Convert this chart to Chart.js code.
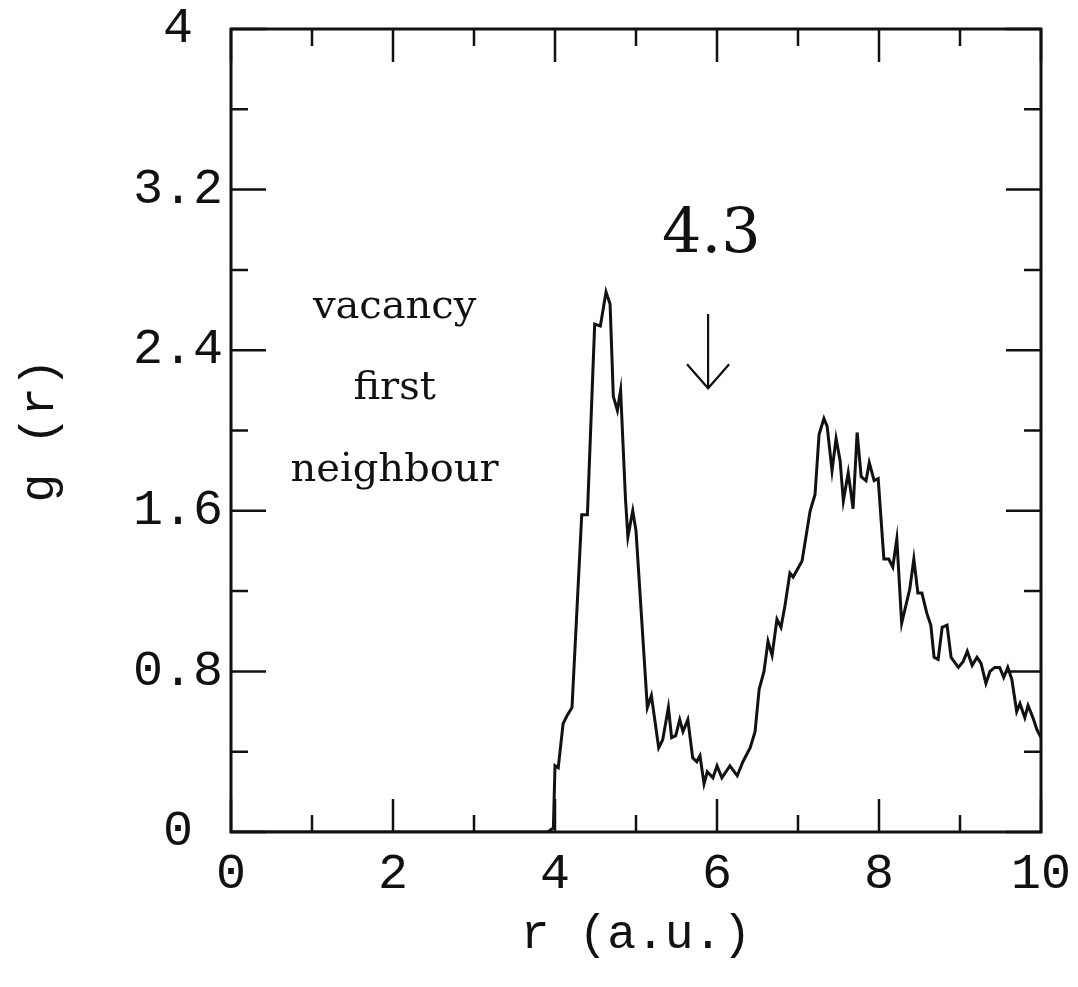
<!DOCTYPE html>
<html lang="en">
<head>
    <meta charset="UTF-8">
    <title>g(r) vacancy first neighbour</title>
    <script src="https://cdn.jsdelivr.net/npm/chart.js@4.4.0/dist/chart.umd.min.js"></script>
    <style>
        body { margin: 0; background: #fff; }
        #wrap { width: 1078px; height: 987px; }
    </style>
</head>
<body>
<div id="wrap"><canvas id="grChart"></canvas></div>
<script>
    // g(r), r in a.u.
    const rValues = [0, 3.91, 3.98, 4.00, 4.04, 4.10, 4.15, 4.21, 4.33, 4.40, 4.49, 4.56, 4.63, 4.68, 4.72, 4.77, 4.81,
        4.87, 4.90, 4.96, 5.00, 5.14, 5.19, 5.28, 5.33, 5.40, 5.44, 5.49, 5.54, 5.58, 5.64, 5.70, 5.75, 5.79,
        5.84, 5.88, 5.95, 6.00, 6.06, 6.16, 6.25, 6.32, 6.41, 6.47, 6.52, 6.58, 6.63, 6.68, 6.74, 6.79, 6.84,
        6.90, 6.94, 7.05, 7.15, 7.21, 7.26, 7.32, 7.36, 7.42, 7.47, 7.52, 7.56, 7.62, 7.68, 7.73, 7.78, 7.84,
        7.88, 7.94, 7.99, 8.06, 8.12, 8.17, 8.22, 8.28, 8.38, 8.43, 8.48, 8.53, 8.59, 8.64, 8.68, 8.73, 8.78,
        8.84, 8.89, 8.98, 9.04, 9.09, 9.15, 9.21, 9.26, 9.32, 9.37, 9.43, 9.49, 9.54, 9.59, 9.64, 9.70, 9.74,
        9.80, 9.84, 9.90, 9.95, 10.0];
    const gValues = [0, 0, 0.02, 0.33, 0.32, 0.54, 0.58, 0.62, 1.58, 1.58, 2.53, 2.52, 2.69, 2.63, 2.17, 2.10, 2.20,
        1.66, 1.47, 1.60, 1.50, 0.62, 0.68, 0.42, 0.46, 0.62, 0.47, 0.48, 0.56, 0.50, 0.56, 0.37, 0.35, 0.38,
        0.24, 0.30, 0.27, 0.33, 0.27, 0.33, 0.28, 0.35, 0.42, 0.50, 0.71, 0.80, 0.95, 0.88, 1.06, 1.02, 1.13,
        1.29, 1.27, 1.35, 1.60, 1.68, 1.98, 2.06, 2.02, 1.80, 1.96, 1.85, 1.65, 1.79, 1.61, 1.99, 1.77, 1.75,
        1.84, 1.75, 1.76, 1.36, 1.36, 1.32, 1.46, 1.04, 1.21, 1.36, 1.19, 1.19, 1.09, 1.03, 0.87, 0.86, 1.02,
        1.03, 0.87, 0.82, 0.85, 0.90, 0.83, 0.87, 0.84, 0.74, 0.80, 0.82, 0.82, 0.77, 0.82, 0.76, 0.60, 0.64,
        0.57, 0.63, 0.57, 0.51, 0.47];

    const xLabelledTicks = [0, 2, 4, 6, 8, 10];
    const yLabelledTicks = [0, 0.8, 1.6, 2.4, 3.2, 4];

    // text placed in data coordinates
    const notes = [
        { text: 'vacancy', r: 2.02, g: 2.61 },
        { text: 'first', r: 2.02, g: 2.21 },
        { text: 'neighbour', r: 2.02, g: 1.80 }
    ];
    const peakNote = { text: '4.3', r: 5.93, g: 2.97 };
    const arrow = { r: 5.89, gTop: 2.58, gTip: 2.21, wing: 0.26, gWing: 2.33 };

    const ink = '#111';
    const serif = '"DejaVu Serif", serif';
    const mono = '"Liberation Mono", monospace';

    function isLabelled(list, v) {
        return list.some(t => Math.abs(t - v) < 1e-6);
    }

    // inward ticks on all four sides, plus the frame and annotations
    const framePlugin = {
        id: 'frame',
        afterDraw(chart) {
            const ctx = chart.ctx;
            const a = chart.chartArea;
            const xs = chart.scales.x, ys = chart.scales.y;
            ctx.save();
            ctx.strokeStyle = ink;
            ctx.lineWidth = 3;
            ctx.strokeRect(a.left, a.top, a.right - a.left, a.bottom - a.top);

            ctx.lineWidth = 2.5;
            xs.ticks.forEach(t => {
                const px = xs.getPixelForValue(t.value);
                const len = isLabelled(xLabelledTicks, t.value) ? 33 : 17;
                ctx.beginPath();
                ctx.moveTo(px, a.bottom); ctx.lineTo(px, a.bottom - len);
                ctx.moveTo(px, a.top); ctx.lineTo(px, a.top + len);
                ctx.stroke();
            });
            ys.ticks.forEach(t => {
                const py = ys.getPixelForValue(t.value);
                const len = isLabelled(yLabelledTicks, t.value) ? 35 : 17;
                ctx.beginPath();
                ctx.moveTo(a.left, py); ctx.lineTo(a.left + len, py);
                ctx.moveTo(a.right, py); ctx.lineTo(a.right - len, py);
                ctx.stroke();
            });

            ctx.fillStyle = ink;
            ctx.textAlign = 'center';
            ctx.textBaseline = 'middle';
            ctx.font = '40px ' + serif;
            notes.forEach(n => {
                ctx.fillText(n.text, xs.getPixelForValue(n.r), ys.getPixelForValue(n.g));
            });
            ctx.font = '62px ' + serif;
            ctx.fillText(peakNote.text, xs.getPixelForValue(peakNote.r), ys.getPixelForValue(peakNote.g));

            const ax = xs.getPixelForValue(arrow.r);
            const tipY = ys.getPixelForValue(arrow.gTip);
            ctx.lineWidth = 2.2;
            ctx.beginPath();
            ctx.moveTo(ax, ys.getPixelForValue(arrow.gTop));
            ctx.lineTo(ax, tipY);
            ctx.moveTo(xs.getPixelForValue(arrow.r - arrow.wing), ys.getPixelForValue(arrow.gWing));
            ctx.lineTo(ax, tipY);
            ctx.lineTo(xs.getPixelForValue(arrow.r + arrow.wing), ys.getPixelForValue(arrow.gWing));
            ctx.stroke();
            ctx.restore();
        }
    };

    const points = rValues.map((r, i) => ({ x: r, y: gValues[i] }));

    Chart.defaults.animation = false;
    Chart.defaults.color = ink;

    new Chart(document.getElementById('grChart'), {
        type: 'line',
        data: {
            datasets: [{
                data: points,
                borderColor: ink,
                borderWidth: 3,
                pointRadius: 0,
                tension: 0,
                fill: false
            }]
        },
        options: {
            responsive: true,
            maintainAspectRatio: false,
            layout: { padding: { left: 0, right: 37, top: 29, bottom: 0 } },
            plugins: { legend: { display: false }, tooltip: { enabled: false } },
            scales: {
                x: {
                    type: 'linear',
                    min: 0, max: 10,
                    grid: { display: false },
                    border: { display: false },
                    ticks: {
                        stepSize: 1,
                        maxRotation: 0,
                        autoSkip: false,
                        padding: 10,
                        font: { family: mono, size: 50, lineHeight: 1 },
                        callback: v => isLabelled(xLabelledTicks, v) ? String(v) : ''
                    },
                    title: {
                        display: true,
                        text: 'r (a.u.)',
                        font: { family: mono, size: 48, lineHeight: 1 },
                        padding: { top: 0, bottom: 28 }
                    },
                    afterFit(scale) {
                        scale.height = 155;
                        scale.paddingLeft = 0;
                        scale.paddingRight = 0;
                    }
                },
                y: {
                    min: 0, max: 4,
                    grid: { display: false },
                    border: { display: false },
                    ticks: {
                        stepSize: 0.4,
                        autoSkip: false,
                        crossAlign: 'center',
                        padding: 0,
                        font: { family: mono, size: 50, lineHeight: 1 },
                        callback: v => isLabelled(yLabelledTicks, v) ? String(+v.toFixed(1)) : ''
                    },
                    title: {
                        display: true,
                        text: 'g (r)',
                        font: { family: mono, size: 48, lineHeight: 1 },
                        padding: { top: 16, bottom: 0 }
                    },
                    afterFit(scale) {
                        scale.width = 231;
                        scale.paddingTop = 0;
                        scale.paddingBottom = 0;
                    }
                }
            }
        },
        plugins: [framePlugin]
    });
</script>
</body>
</html>
